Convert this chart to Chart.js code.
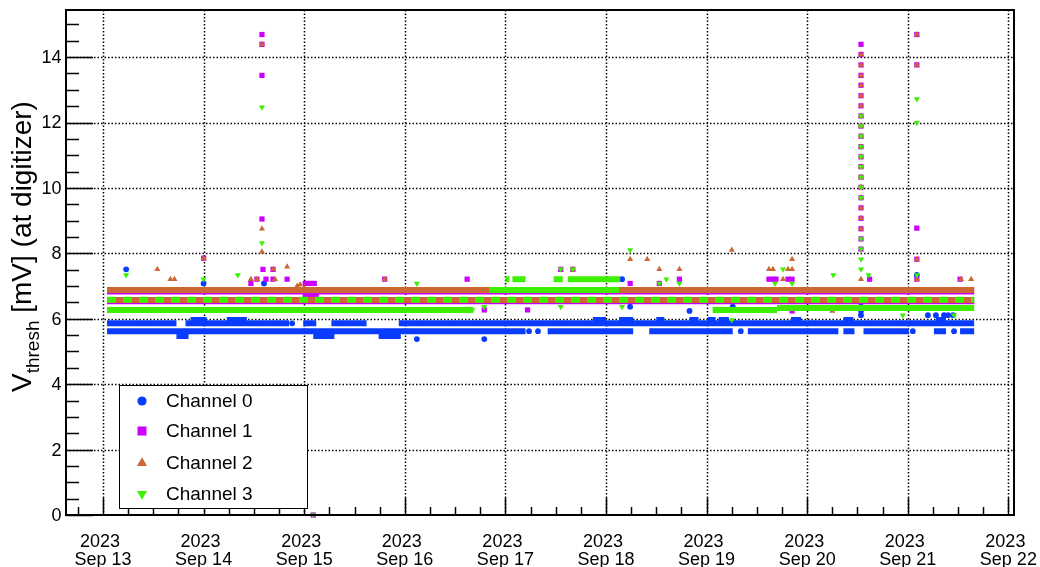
<!DOCTYPE html>
<html>
<head>
<meta charset="utf-8">
<script src="https://cdn.jsdelivr.net/npm/chart.js@4.4.0/dist/chart.umd.min.js"></script>
<style>
  html, body { margin: 0; padding: 0; background: #fff; }
  canvas { display: block; }
</style>
</head>
<body>
<canvas id="chart" width="1040" height="567"></canvas>
<script>
// time axis in days of September 2023, values in mV
const dayTicks = [13, 14, 15, 16, 17, 18, 19, 20, 21, 22]
const valueTicks = [0, 2, 4, 6, 8, 10, 12, 14]
const channelNames = ["Channel 0", "Channel 1", "Channel 2", "Channel 3"]

// dense bands: [start day, end day, level]
const ch0Bands = [
    [13.04, 13.73, 5.86], [13.82, 14.85, 5.86], [14.99, 15.12, 5.86], [15.27, 15.62, 5.86], [15.94, 21.66, 5.86],
    [13.87, 14.03, 5.96], [14.23, 14.43, 5.96], [17.87, 18.0, 5.96], [18.13, 18.27, 5.96], [18.50, 18.58, 5.96],
    [18.83, 18.92, 5.96], [19.01, 19.09, 5.96], [19.12, 19.22, 5.96], [19.84, 19.94, 5.96], [20.36, 20.46, 5.96],
    [21.28, 21.38, 5.96],
    [13.04, 17.20, 5.62], [17.42, 18.27, 5.62], [18.43, 19.26, 5.62], [19.41, 20.31, 5.62], [20.36, 20.47, 5.62],
    [20.56, 21.01, 5.62], [21.26, 21.38, 5.62], [21.52, 21.66, 5.62],
    [13.73, 13.85, 5.47], [15.09, 15.30, 5.47], [15.74, 15.96, 5.47],
]
const ch1Bands = [[13.04, 21.66, 6.85], [13.04, 21.66, 6.55]]
const ch2Bands = [[13.04, 21.66, 6.88], [13.04, 21.66, 6.57]]
const ch3Bands = [
    [13.04, 16.68, 6.27], [19.06, 19.70, 6.27], [19.70, 21.66, 6.33],
    [16.84, 18.13, 6.88],
    [17.00, 17.04, 7.21], [17.07, 17.20, 7.21], [17.48, 17.57, 7.21], [17.62, 18.14, 7.21],
]
const ch3MidBand = [[13.04, 21.66, 6.58]]

// single readings: [day, value]
const ch0Points = [
    [13.23, 7.51], [14.0, 7.08], [14.6, 7.08], [14.88, 5.86], [16.12, 5.38], [16.79, 5.38], [17.235, 5.62],
    [17.324, 5.62], [18.16, 7.21], [18.24, 6.37], [18.83, 6.24], [19.26, 6.37], [19.34, 5.62], [20.535, 6.11],
    [20.535, 6.24], [20.535, 6.37], [21.05, 5.62], [21.09, 7.34], [21.20, 6.11], [21.28, 6.11], [21.36, 6.11],
    [21.40, 6.11], [21.45, 6.11], [21.46, 5.62],
]
const ch1Points = [
    [14.0, 7.85], [14.47, 7.08], [14.53, 7.21], [14.58, 14.69], [14.58, 14.39], [14.58, 13.44], [14.58, 9.05],
    [14.59, 7.51], [14.62, 7.21], [14.69, 7.51], [14.69, 7.21], [14.83, 7.21], [15.01, 7.08], [15.04, 7.08],
    [15.07, 7.08], [15.10, 7.08], [15.01, 6.70], [15.05, 6.70], [15.09, 6.70], [15.12, 6.70], [15.09, 0],
    [15.8, 7.21], [16.62, 7.21], [16.79, 6.27], [17.22, 6.27], [17.55, 7.51], [17.67, 7.51], [18.24, 7.08],
    [18.53, 7.08], [18.73, 7.21], [19.62, 7.21], [19.66, 7.21], [19.69, 7.21], [19.81, 7.21], [19.85, 7.21],
    [19.85, 6.24], [20.62, 7.21], [21.09, 14.69], [21.09, 13.76], [21.09, 8.77], [21.09, 7.82], [21.09, 7.21],
    [21.52, 7.21],
]
const ch2Points = [
    [13.54, 7.51], [13.67, 7.21], [13.71, 7.21], [14.0, 7.85], [14.47, 7.21], [14.53, 7.21], [14.58, 14.39],
    [14.58, 8.75], [14.58, 8.05], [14.69, 7.51], [14.71, 7.21], [14.83, 7.59], [14.93, 7.0], [14.96, 7.05],
    [15.0, 6.95], [15.8, 7.21], [17.67, 7.51], [18.24, 7.82], [18.41, 7.82], [18.53, 7.51], [18.73, 7.51],
    [19.25, 8.1], [19.62, 7.51], [19.66, 7.51], [19.76, 7.21], [19.81, 7.51], [19.85, 7.51], [19.85, 7.82],
    [20.25, 6.24], [20.535, 7.21], [21.09, 14.69], [21.09, 13.76], [21.09, 7.82], [21.09, 7.21], [21.53, 7.21],
    [21.63, 7.21],
]
const ch3Points = [
    [13.23, 7.34], [14.0, 7.21], [14.34, 7.34], [14.58, 12.47], [14.58, 8.32], [15.09, 0], [16.12, 7.08],
    [16.67, 6.27], [16.79, 6.37], [17.55, 6.37], [17.55, 7.51], [17.67, 7.51], [18.16, 6.37], [18.24, 8.1],
    [18.53, 7.08], [18.60, 7.21], [18.73, 7.08], [19.25, 5.96], [19.68, 7.08], [19.76, 7.51], [19.85, 7.08],
    [20.26, 7.34], [20.61, 7.34], [20.95, 6.11], [21.09, 7.34], [21.09, 11.99], [21.09, 12.72], [21.46, 6.11],
]

// the Sep 20 burst: all readings taken at one time
const burstDay = 20.535
const ch1Burst = [14.39, 14.08, 13.76, 13.44, 13.14, 12.82, 12.51, 12.2, 11.89, 11.58, 11.26, 10.95, 10.65,
    10.33, 10.02, 9.70, 9.39, 9.07, 8.75, 8.44, 8.13]
const ch2Burst = [14.08, 13.76, 13.44, 13.14, 12.82, 12.51, 12.2, 11.89, 11.58, 11.26, 10.95, 10.65, 10.33,
    10.02, 9.70, 9.39, 9.07, 8.75]
const ch3Burst = [12.2, 11.89, 11.58, 11.26, 10.95, 10.65, 10.33, 10.02, 9.70, 8.44, 8.13, 7.82, 7.51]

const colors = ["#0a3cff", "#cc00ff", "#cc6633", "#3cf000"]
const FONT = '"Liberation Sans", Arial, Helvetica, sans-serif'

function segData(list) {
    const out = []
    for (const [s, e, v] of list) {
        out.push({ x: s, y: v }, { x: e, y: v }, { x: e, y: null })
    }
    return out
}

function band(list, color, width, dash) {
    return {
        data: segData(list),
        showLine: true,
        borderColor: color,
        borderWidth: width,
        borderDash: dash || [],
        borderCapStyle: 'butt',
        pointRadius: 0,
        spanGaps: false,
        clip: false,
    }
}

function marks(list, color, style, radius, rotation) {
    return {
        data: list.map(([x, y]) => ({ x, y })),
        showLine: false,
        pointStyle: style,
        pointRadius: radius,
        pointRotation: rotation || 0,
        pointBackgroundColor: color,
        pointBorderWidth: 0,
        clip: false,
    }
}

const burst = (vals) => vals.map(v => [burstDay, v])

// bottom to top, the way the channels were overlaid
const layers = [
    band(ch0Bands, colors[0], 6),
    marks(ch0Points, colors[0], 'circle', 2.9),
    band(ch1Bands, colors[1], 7),
    marks(ch1Points.concat(burst(ch1Burst)), colors[1], 'rect', 3.7),
    band(ch2Bands, colors[2], 6),
    marks(ch2Points.concat(burst(ch2Burst)), colors[2], 'triangle', 3.5),
    band(ch3Bands, colors[3], 6),
    band(ch3MidBand, colors[3], 6, [9, 7]),
    marks(ch3Points.concat(burst(ch3Burst)), colors[3], 'triangle', 3.5, 180),
]

const rootAxes = {
    id: 'rootAxes',
    beforeDatasetsDraw(chart) {
        const { ctx, chartArea: a, scales: { x, y } } = chart
        ctx.save()
        ctx.strokeStyle = '#000'
        ctx.lineWidth = 1.5
        ctx.setLineDash([1.5, 2])
        for (const d of dayTicks) {
            const px = Math.round(x.getPixelForValue(d)) + 0.5
            if (px < a.left || px > a.right) continue
            ctx.beginPath(); ctx.moveTo(px, a.top); ctx.lineTo(px, a.bottom); ctx.stroke()
        }
        for (const v of valueTicks) {
            if (v === 0) continue
            const py = Math.round(y.getPixelForValue(v)) + 0.5
            ctx.beginPath(); ctx.moveTo(a.left, py); ctx.lineTo(a.right, py); ctx.stroke()
        }
        ctx.restore()
    },
    afterDatasetsDraw(chart) {
        const { ctx, chartArea: a, scales: { x, y } } = chart
        ctx.save()
        ctx.strokeStyle = '#000'
        ctx.fillStyle = '#000'
        ctx.lineWidth = 1.5

        // x ticks every 6 hours
        for (let t = 12.75; t <= x.max; t += 0.25) {
            const px = Math.round(x.getPixelForValue(t)) + 0.5
            const len = Math.abs(t - Math.round(t)) < 1e-6 ? 17 : 8
            ctx.beginPath(); ctx.moveTo(px, a.bottom); ctx.lineTo(px, a.bottom - len); ctx.stroke()
        }
        // y ticks every 0.5
        for (let v = 0; v <= y.max; v += 0.5) {
            const py = Math.round(y.getPixelForValue(v)) + 0.5
            const len = v % 2 === 0 ? 27 : 13
            ctx.beginPath(); ctx.moveTo(a.left, py); ctx.lineTo(a.left + len, py); ctx.stroke()
        }

        // frame
        ctx.lineWidth = 2
        ctx.strokeRect(a.left, a.top, a.right - a.left, a.bottom - a.top)

        // tick labels
        ctx.font = '18px ' + FONT
        ctx.textAlign = 'center'
        ctx.textBaseline = 'alphabetic'
        for (const d of dayTicks) {
            const px = x.getPixelForValue(d)
            ctx.fillText('2023', px - 3, 547)
            ctx.fillText('Sep ' + d, px, 565)
        }
        ctx.textAlign = 'right'
        ctx.textBaseline = 'middle'
        for (const v of valueTicks) {
            ctx.fillText(String(v), 61.5, y.getPixelForValue(v) + 1)
        }

        // y title with subscript
        ctx.translate(31, 392)
        ctx.rotate(-Math.PI / 2)
        ctx.textAlign = 'left'
        ctx.textBaseline = 'alphabetic'
        ctx.font = '28px ' + FONT
        ctx.fillText('V', 0, 0)
        let w = ctx.measureText('V').width
        ctx.font = '19px ' + FONT
        ctx.fillText('thresh', w, 8)
        w += ctx.measureText('thresh').width
        ctx.font = '28px ' + FONT
        ctx.fillText(' [mV] (at digitizer)', w, 0)
        ctx.restore()

        // legend box
        ctx.save()
        ctx.fillStyle = '#fff'
        ctx.fillRect(119, 385, 188, 123)
        ctx.strokeStyle = '#000'
        ctx.lineWidth = 1
        ctx.strokeRect(119.5, 385.5, 188, 123)
        const rows = [401, 431, 463, 494]
        const styles = [
            { pointStyle: 'circle', radius: 4.6, rotation: 0 },
            { pointStyle: 'rect', radius: 6.4, rotation: 0 },
            { pointStyle: 'triangle', radius: 5.8, rotation: 0 },
            { pointStyle: 'triangle', radius: 5.8, rotation: 180 },
        ]
        ctx.font = '19px ' + FONT
        ctx.textAlign = 'left'
        ctx.textBaseline = 'middle'
        channelNames.forEach((name, i) => {
            ctx.fillStyle = colors[i]
            Chart.helpers.drawPoint(ctx, { ...styles[i], borderWidth: 0 }, 142, rows[i])
            ctx.fillStyle = '#000'
            ctx.fillText(name, 166, rows[i] + 1)
        })
        ctx.restore()
    }
}

new Chart(document.getElementById('chart'), {
    type: 'scatter',
    data: { datasets: layers.reverse() },
    options: {
        responsive: false,
        animation: false,
        events: [],
        layout: { padding: { left: 66, right: 26, top: 10, bottom: 52 } },
        plugins: { legend: { display: false }, tooltip: { enabled: false } },
        scales: {
            x: { type: 'linear', min: 12.632, max: 22.056, display: false },
            y: { type: 'linear', min: 0, max: 15.44, display: false },
        },
    },
    plugins: [rootAxes],
})
</script>
</body>
</html>
